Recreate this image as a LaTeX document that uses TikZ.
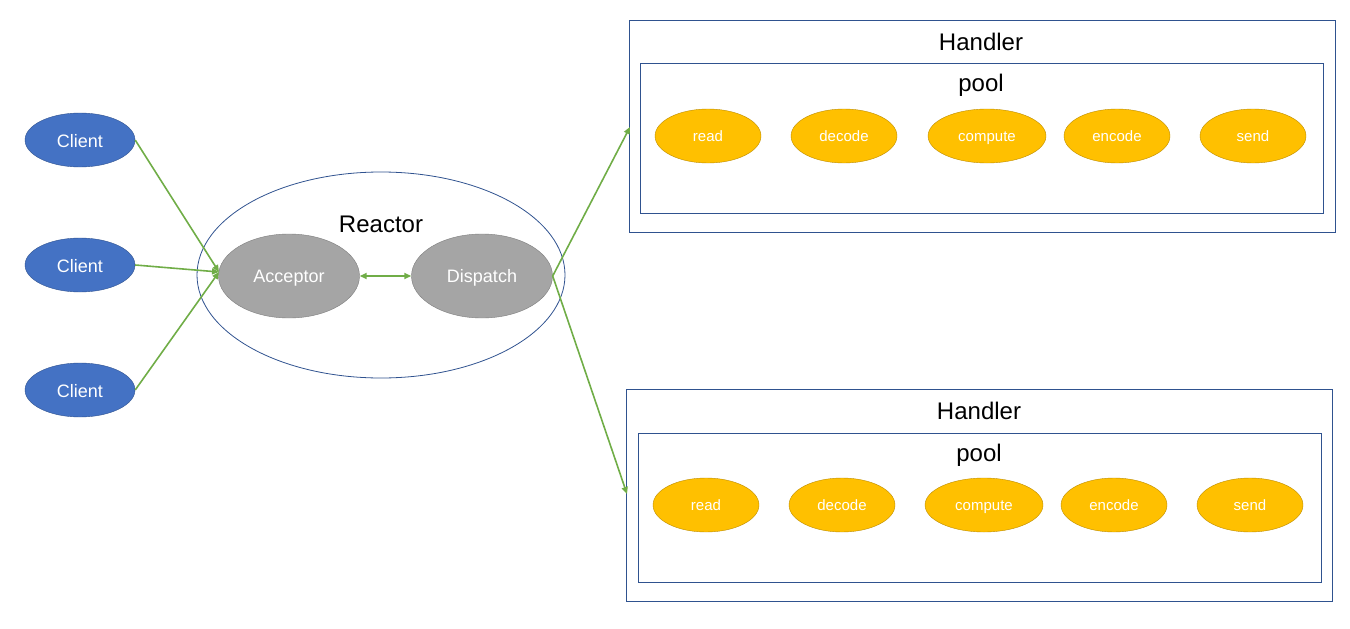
\documentclass[tikz,border=0pt]{standalone}
\usepackage{fontspec}
\setmainfont{Liberation Sans}
\usetikzlibrary{shapes.geometric,arrows.meta}
\definecolor{cblue}{HTML}{4472C4}
\definecolor{cblueedge}{HTML}{2F528F}
\definecolor{cgray}{HTML}{A5A5A5}
\definecolor{cgrayedge}{HTML}{7F7F7F}
\definecolor{cyellow}{HTML}{FFC000}
\definecolor{cyellowedge}{HTML}{BC8C00}
\definecolor{cgreen}{HTML}{70AD47}
\tikzset{
  client/.style={ellipse,draw=cblueedge,fill=cblue,text=white,minimum width=110pt,minimum height=54pt,inner sep=0pt,text height=15pt,text depth=1pt,font=\fontsize{18}{20}\selectfont},
  graynode/.style={ellipse,draw=cgrayedge,fill=cgray,text=white,minimum width=141pt,minimum height=84pt,inner sep=0pt,text height=14pt,text depth=1pt,font=\fontsize{18}{20}\selectfont},
  task/.style={ellipse,draw=cyellowedge,fill=cyellow,text=white,minimum width=106pt,minimum height=54pt,inner sep=0pt,text height=12pt,text depth=2pt,font=\fontsize{15}{17}\selectfont},
  taskwide/.style={task,minimum width=118pt},
  frame/.style={draw=cblueedge,line width=0.8pt},
  title/.style={font=\fontsize{24}{27}\selectfont,text=black},
  conn/.style={draw=cgreen,line width=1.6pt,-{Triangle[length=7pt,width=6pt]}},
  dconn/.style={draw=cgreen,line width=1.6pt,{Triangle[length=7pt,width=6pt]}-{Triangle[length=7pt,width=6pt]}}
}
\begin{document}
\begin{tikzpicture}[x=1pt,y=-1pt]
\useasboundingbox (0,0) rectangle (1350,629);
% Reactor
\node[ellipse,frame,minimum width=368pt,minimum height=206pt,inner sep=0pt] (reactor) at (381,275) {};
\node[title] (reactorlbl) at (381,224) {Reactor};
\node[graynode] (acc) at (289,276) {Acceptor};
\node[graynode] (disp) at (482,276) {Dispatch};
% Clients
\node[client] (c1) at (80,140) {Client};
\node[client] (c2) at (80,265) {Client};
\node[client] (c3) at (80,390) {Client};
% Handler 1
\node[frame,draw,minimum width=706pt,minimum height=212pt,inner sep=0pt] (h1) at (982,126) {};
\node[title] (h1lbl) at (981,42) {Handler};
\node[frame,draw,minimum width=683pt,minimum height=150pt,inner sep=0pt] (p1) at (981.5,138) {};
\node[title] (p1lbl) at (981,85) {pool};
\node[task] (r1) at (708,136) {read};
\node[task] (d1) at (844,136) {decode};
\node[taskwide] (cp1) at (987,136) {compute};
\node[task] (e1) at (1117,136) {encode};
\node[task] (s1) at (1253,136) {send};
% Handler 2
\node[frame,draw,minimum width=706pt,minimum height=212pt,inner sep=0pt] (h2) at (979,495) {};
\node[title] (h2lbl) at (979,411) {Handler};
\node[frame,draw,minimum width=683pt,minimum height=149pt,inner sep=0pt] (p2) at (979.5,507.5) {};
\node[title] (p2lbl) at (979,455) {pool};
\node[task] (r2) at (706,505) {read};
\node[task] (d2) at (842,505) {decode};
\node[taskwide] (cp2) at (984,505) {compute};
\node[task] (e2) at (1114,505) {encode};
\node[task] (s2) at (1250,505) {send};
% connectors
\coordinate (accin) at (219,272);
\coordinate (h1in) at (630,127);
\coordinate (h2in) at (627,494);
\draw[conn] (c1.east) -- (accin);
\draw[conn] (c2.east) -- (accin);
\draw[conn] (c3.east) -- (accin);
\draw[dconn] (acc.east) -- (disp.west);
\draw[conn] (disp.east) -- (h1in);
\draw[conn] (disp.east) -- (h2in);
\end{tikzpicture}
\end{document}
